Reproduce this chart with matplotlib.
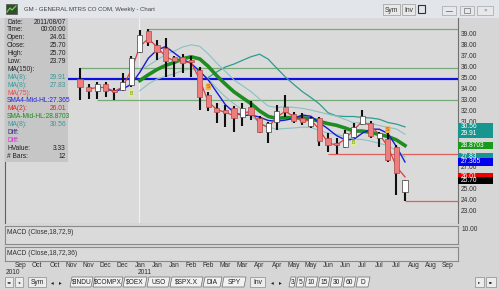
import numpy as np
import pandas as pd
import matplotlib
matplotlib.use("Agg")
import matplotlib.pyplot as plt
from matplotlib.patches import Rectangle, Polygon
from matplotlib.transforms import blended_transform_factory

plt.rcParams['font.family'] = ['Liberation Sans', 'DejaVu Sans']

# Weekly bars GM (first bar = IPO week)
first_week = pd.Timestamp('2010-11-14')
opens = [34.91, 34.18, 33.82, 34.45, 33.91, 33.91, 34.36, 37.36, 39.27, 38.00,
         37.73, 36.91, 36.91, 36.64, 35.73, 33.45, 32.27, 32.09, 32.27, 31.45,
         32.36, 31.36, 30.09, 31.00, 32.36, 31.73, 31.36, 30.64, 31.36, 29.55,
         29.09, 28.73, 29.64, 30.82, 30.91, 29.55, 29.45, 28.73, 24.61]
highs = [35.91, 34.45, 34.64, 34.64, 34.09, 35.45, 37.00, 39.36, 39.45, 38.45,
         38.64, 37.00, 37.18, 37.00, 36.00, 33.73, 32.73, 32.55, 32.45, 32.73,
         32.91, 31.55, 31.00, 32.55, 33.45, 31.91, 31.82, 31.45, 31.45, 30.00,
         29.55, 30.27, 30.91, 32.09, 31.09, 30.09, 30.00, 28.91, 25.70]
lows = [33.00, 33.09, 33.09, 33.27, 33.00, 33.82, 34.18, 37.27, 37.91, 36.64,
        35.09, 35.09, 35.45, 35.09, 32.09, 32.00, 30.91, 30.55, 30.09, 30.64,
        31.18, 30.00, 29.09, 30.27, 31.45, 30.91, 30.73, 30.45, 28.82, 28.27,
        28.09, 28.64, 29.55, 30.73, 29.55, 28.73, 27.36, 24.36, 23.79]
closes = [34.18, 33.82, 34.45, 33.82, 33.73, 34.64, 36.82, 38.91, 38.27, 37.36,
          36.55, 36.55, 36.36, 36.45, 33.27, 32.36, 31.91, 31.82, 31.36, 32.27,
          31.64, 30.09, 30.91, 32.00, 31.91, 31.09, 31.00, 31.36, 29.27, 28.91,
          28.91, 30.00, 30.55, 31.55, 29.73, 30.00, 27.55, 26.32, 25.70]

# drawn support / resistance lines: (price, first bar)
green_levels = [39.45, 35.91, 33.00]
green_start = [8, 0, 2]
blue_level = 34.95
red_levels = [28.09, 23.79]
red_start = [29, 38]

# buy / sell flags
signal_bar = [6, 15, 32, 36]
signal_kind = ['B', 'S', 'B', 'S']
signal_price = [33.6, 34.2, 29.1, 30.3]

# info panel
info_labels = ['Date:', 'Time:', 'Open:', 'Close:', 'High:', 'Low:', 'MA(150):',
               'MA(8):', 'MA(8):', 'MA(75):', 'SMA4-Mid-HL:27.365', 'MA(2):',
               'SMA-Mid-HL:28.8703', 'MA(8):', 'Diff:', 'Diff:', 'HValue:', '# Bars:']
info_values = ['2011/08/07', '00:00:00', '24.61', '25.70', '25.70', '23.79', '',
               '29.91', '27.83', '', '', '26.01', '', '30.56', '', '', '3.33', '12']
info_colors = ['#202020'] * 7 + ['#3a9a9a', '#3a9a9a', '#e05050', '#2020e0', '#e02020',
                                  '#1a8a1a', '#3a9a9a', '#302080', '#e020e0', '#202020', '#202020']

# price scale labels (the ones under the value boxes are covered)
price_ticks = list(range(23, 40))
hidden_ticks = [26, 28, 29, 30]

# last-value boxes on the price scale
box_values = [30.56, 29.91, 28.8703, 27.83, 27.365, 26.01, 25.70]
box_texts = ['30.56', '29.91', '28.8703', '27.83', '27.365', '26.01', '25.70']
box_colors = ['#17958f', '#17958f', '#1a9a1a', '#17958f', '#0000ee', '#ee0000', '#000000']

bars = pd.DataFrame({'open': opens, 'high': highs, 'low': lows, 'close': closes})
idx = np.arange(len(bars))
mid = (bars.high + bars.low) / 2
ma2 = bars.close.rolling(2).mean()
sma4_mid = mid.rolling(4).mean()
sma8_mid = mid.rolling(8).mean()
ma8_high = bars.high.rolling(8).mean()
ma8_low = bars.low.rolling(8).mean()
ma8_disp = bars.close.rolling(8).mean().shift(8)

W, H = 499, 290
fig = plt.figure(figsize=(W / 100, H / 100), dpi=100)
fig.patch.set_facecolor('#d6d6d6')


def px_axes(x0, y0, x1, y1):
    return fig.add_axes([x0 / W, 1 - y1 / H, (x1 - x0) / W, (y1 - y0) / H])


XL = (-8.77, 44.2)
FS = 4.8

# ---- main price pane
ax = px_axes(5, 18, 458, 223)
ax.set_facecolor('#dadada')
ax.set_xlim(*XL)
ax.set_ylim(21.82, 40.45)
ax.set_xticks([])
ax.yaxis.tick_right()
ax.set_yticks(price_ticks)
ax.set_yticklabels(['' if v in hidden_ticks else f'{v}.00' for v in price_ticks],
                   fontsize=FS, color='#303030')
ax.tick_params(axis='y', length=0, pad=2)
for s in ['top', 'bottom']:
    ax.spines[s].set_visible(False)
ax.spines['left'].set_color('#606060')
ax.spines['right'].set_color('#707070')

ax.axvline((pd.Timestamp('2011-01-01') - first_week).days / 7, color='#f2f2f2', lw=0.8, zorder=0)

for lvl, st in zip(green_levels, green_start):
    ax.hlines(lvl, st, XL[1], color='#78aa78', lw=0.9, zorder=1)
ax.axhline(blue_level, color='#1010e0', lw=1.6, zorder=1)
for lvl, st in zip(red_levels, red_start):
    ax.hlines(lvl, st, XL[1], color='#e06060', lw=0.9, zorder=1)

ax.plot(idx, ma8_disp, color='#2f9c90', lw=0.9, zorder=2)
ax.plot(idx, ma8_high, color='#8cc0c0', lw=0.8, zorder=2)
ax.plot(idx, ma8_low, color='#8cc0c0', lw=0.8, zorder=2)
ax.plot(idx, sma8_mid, color='#1e8c1e', lw=2.6, zorder=2)
ax.plot(idx, sma4_mid, color='#1a1ad8', lw=1.0, zorder=3)
ax.plot(idx, ma2, color='#e03a3a', lw=0.9, zorder=3)

for i, r in bars.iterrows():
    ax.vlines(i, r.low, r.high, color='#101010', lw=1.5, zorder=4)
    up = r.close >= r.open
    lo = min(r.open, r.close)
    hgt = max(abs(r.close - r.open), 0.12)
    ax.add_patch(Rectangle((i - 0.3, lo), 0.6, hgt, fc='white' if up else '#ee7d7d',
                           ec='#404040' if up else '#b04848', lw=0.5, zorder=5))

for b, k, p in zip(signal_bar, signal_kind, signal_price):
    fc = '#e4f47a' if k == 'B' else '#f4b040'
    ax.text(b, p, k, fontsize=3.8, ha='center', va='center', color='#6a8a20' if k == 'B' else '#c05000',
            zorder=6, bbox=dict(boxstyle='round,pad=0.15', fc=fc, ec='none'))

tr = blended_transform_factory(ax.transAxes, ax.transData)
for v, t, c in zip(box_values, box_texts, box_colors):
    ax.add_patch(Rectangle((1.0, v - 0.32), 0.077, 0.64, transform=tr, fc=c, ec='none',
                           clip_on=False, zorder=7))
    ax.text(1.007, v, t, transform=tr, fontsize=FS, va='center', ha='left',
            color='white', clip_on=False, zorder=8)

# ---- info panel
ip = px_axes(5, 18, 68, 162)
ip.set_facecolor('#c6c6c6')
ip.set_xlim(5, 68)
ip.set_ylim(162, 18)
ip.set_xticks([])
ip.set_yticks([])
for s in ip.spines.values():
    s.set_visible(False)
for k, (lab, val, col) in enumerate(zip(info_labels, info_values, info_colors)):
    yy = 22 + k * 7.9
    ip.text(7, yy, lab, fontsize=FS, color=col, va='center', ha='left')
    ip.text(66, yy, val, fontsize=FS, color=col, va='center', ha='right')

# ---- MACD panes
for y0, y1, lab in [(226, 244, 'MACD (Close,18,72,9)'), (247, 261, 'MACD (Close,18,72,36)')]:
    m = px_axes(5, y0, 458, y1)
    m.set_facecolor('#dadada')
    m.set_xlim(*XL)
    m.set_xticks([])
    m.set_yticks([])
    for s in m.spines.values():
        s.set_color('#8a8a8a')
        s.set_linewidth(0.8)
    m.text(0.004, 0.82, lab, transform=m.transAxes, fontsize=FS, va='top', color='#303030')
    if lab.endswith(',9)'):
        m.text(1.007, 0.78, '10.00', transform=m.transAxes, fontsize=FS, va='center',
               color='#303030', clip_on=False)

# ---- date strip
ad = px_axes(5, 261, 458, 275)
ad.set_xlim(*XL)
ad.set_ylim(1, 0)
ad.axis('off')
tick_dates = pd.date_range('2010-09-26', '2011-09-11', freq='14D')
for d in tick_dates:
    xd = (d - first_week).days / 7
    ad.text(xd, 0.35, d.strftime('%b'), fontsize=FS, ha='center', va='center', color='#303030')
ad.text((pd.Timestamp('2010-09-26') - first_week).days / 7 - 0.8, 0.8, '2010', fontsize=FS,
        ha='center', va='center', color='#303030')
ad.text((pd.Timestamp('2011-01-02') - first_week).days / 7 + 0.6, 0.8, '2011', fontsize=FS,
        ha='center', va='center', color='#303030')

# ---- title bar
tb = px_axes(0, 0, 499, 18)
tb.set_xlim(0, 499)
tb.set_ylim(18, 0)
tb.axis('off')
tb.add_patch(Rectangle((0, 0), 499, 18, fc='#e2e5ea', ec='none'))
tb.add_patch(Rectangle((6, 4), 11, 10, fc='#2f4f2f', ec='#505050', lw=0.5))
tb.plot([7, 10, 12, 16], [12, 8, 10, 6], color='#7fdc50', lw=0.8)
tb.text(24, 10, 'GM - GENERAL MTRS CO COM, Weekly - Chart', fontsize=4.3, va='center', color='#404040')
for x0, x1, t in [(383, 400, 'Sym'), (402, 415, 'Inv')]:
    tb.add_patch(Rectangle((x0, 4), x1 - x0, 11, fc='#e8e8e8', ec='#9a9a9a', lw=0.5))
    tb.text((x0 + x1) / 2, 10, t, fontsize=FS, ha='center', va='center', color='#303030')
tb.add_patch(Rectangle((418, 5), 7, 8, fc='none', ec='#303030', lw=0.8))
for x0, x1 in [(442, 456), (460, 474), (477, 493)]:
    tb.add_patch(Rectangle((x0, 6), x1 - x0, 9, fc='#e6e8ec', ec='#a0a4aa', lw=0.5))
tb.plot([446, 452], [11, 11], color='#707070', lw=0.6)
tb.add_patch(Rectangle((464, 8), 6, 5, fc='none', ec='#707070', lw=0.5))
tb.text(485, 10.5, '×', fontsize=4.5, ha='center', va='center', color='#707070')

# ---- tab bar
bb = px_axes(0, 274, 499, 290)
bb.set_xlim(0, 499)
bb.set_ylim(16, 0)
bb.axis('off')
bb.add_patch(Rectangle((0, 0), 499, 16, fc='#d6d6d6', ec='none'))
for x0, x1, t in [(5, 13, '◂◂'), (15, 23, '◂'), (28, 46, 'Sym'), (250, 265, 'Inv'),
                  (475, 484, '▸'), (486, 496, '▸▸')]:
    bb.add_patch(Rectangle((x0, 3), x1 - x0, 10, fc='#ececec', ec='#8a8a8a', lw=0.5))
    bb.text((x0 + x1) / 2, 8, t, fontsize=FS if len(t) > 2 else 3.2, ha='center', va='center',
            color='#202020', family=['DejaVu Sans'] if '◂' in t or '▸' in t else None)
for xa in [52, 272]:
    bb.text(xa, 8.5, '◂', fontsize=4, ha='center', va='center', color='#202020', family=['DejaVu Sans'])
    bb.text(xa + 8, 8.5, '▸', fontsize=4, ha='center', va='center', color='#202020', family=['DejaVu Sans'])
tabs = ['$INDU', '$COMPX', '$OEX', 'USO', '$SPX.X', 'DIA', 'SPY']
tab_edges = [70, 93, 123, 147, 170, 203, 222, 246]
periods = ['3', '5', '10', '15', '30', '60', 'D']
period_edges = [289, 296, 305, 318, 330, 343, 356, 370]
for labels, edges in [(tabs, tab_edges), (periods, period_edges)]:
    for k, t in enumerate(labels):
        a, b = edges[k], edges[k + 1]
        bb.add_patch(Polygon([(a, 13), (a + 2, 3), (b, 3), (b - 2, 13)], closed=True,
                             fc='#f2f2f2', ec='#6a6a6a', lw=0.5))
        bb.text((a + b) / 2, 8, t, fontsize=FS, ha='center', va='center', color='#202020')

fig.savefig('out.png', dpi=100, facecolor=fig.get_facecolor())
